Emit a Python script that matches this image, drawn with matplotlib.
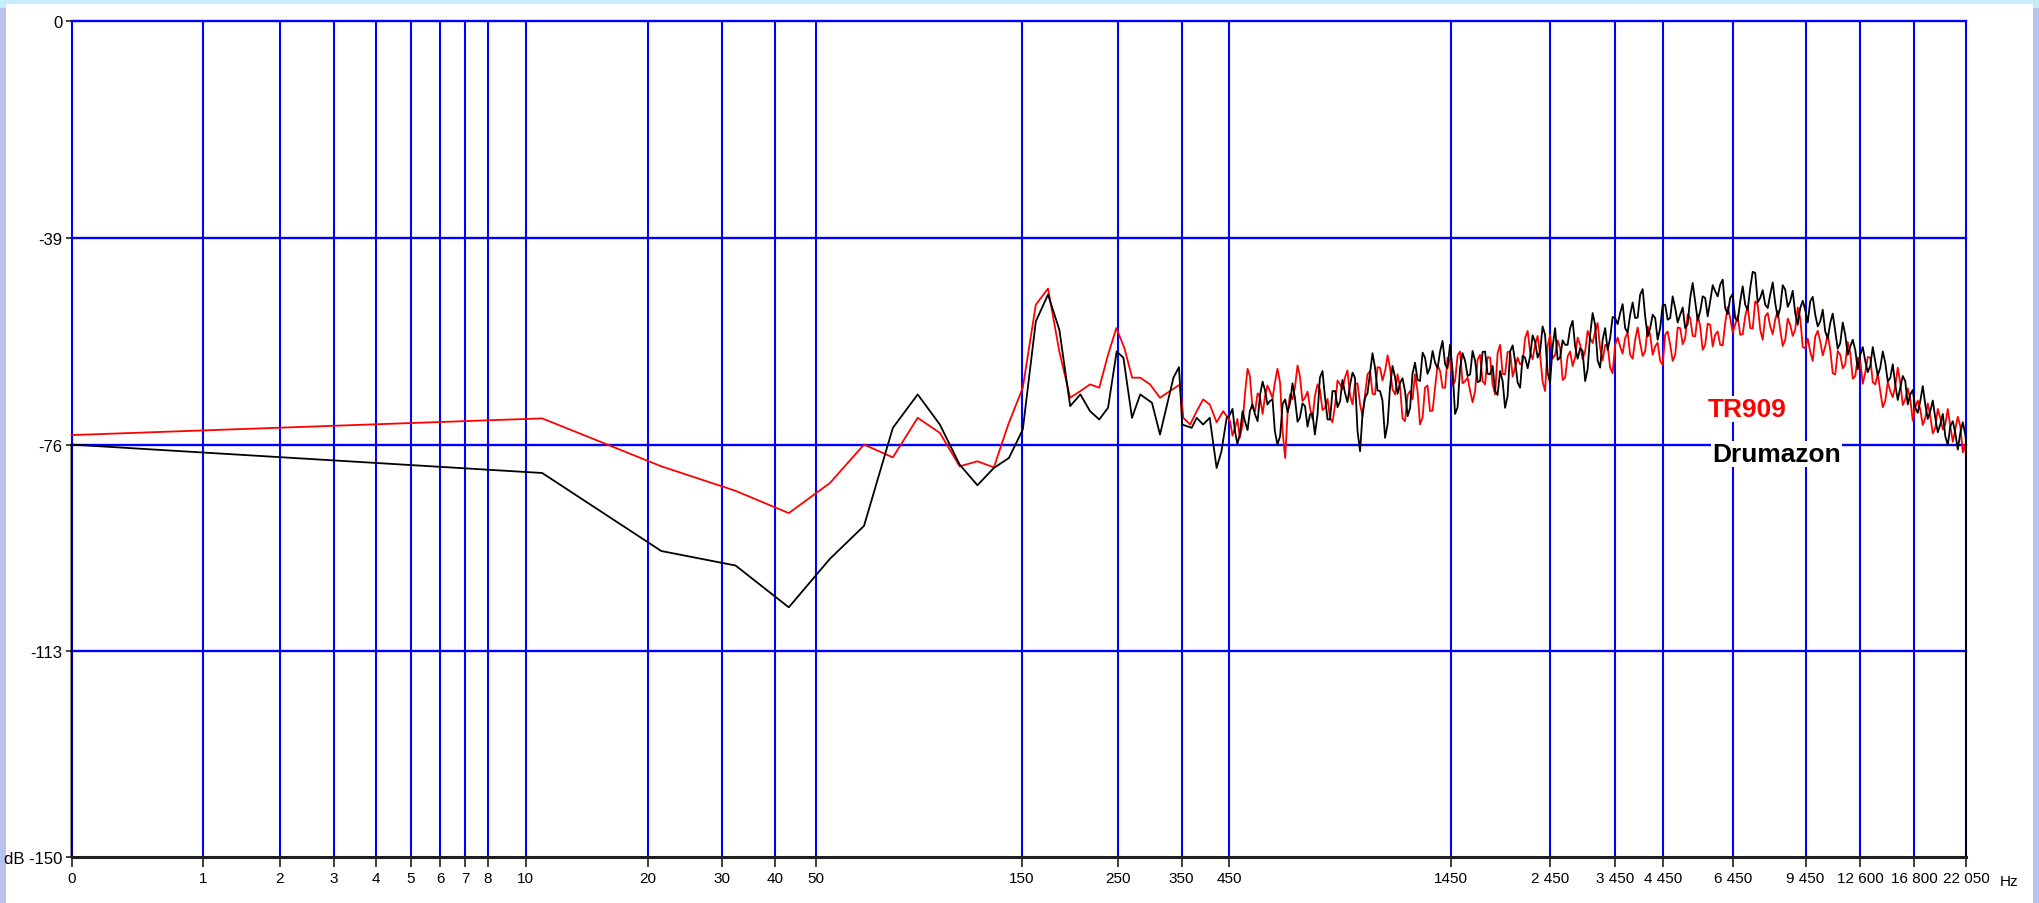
import numpy as np
import matplotlib.pyplot as plt
from matplotlib.patches import Rectangle

# spectrum values (frequency in Hz, level in dB)
red_freq_low = [0, 11, 21.5, 32.3, 43.1, 53.8, 64.6, 75.4, 86.1, 96.9,
                107.7, 118.4, 129.2, 139.5, 150.7, 161.5, 172.3, 183, 193.8, 204.6,
                215.3, 226.1, 236.9, 247.6, 258.4, 269.2, 281, 296, 312, 329,
                347, 353, 366, 379, 392, 406, 421, 436]
red_db_low = [-74.3, -71.3, -79.9, -84.3, -88.3, -82.9, -76.0, -78.3, -71.2, -73.9,
              -79.9, -79.0, -80.1, -72.4, -65.8, -50.9, -48.0, -59.3, -67.6, -66.4,
              -65.2, -65.8, -59.9, -55.1, -58.7, -64.0, -64.0, -65.2, -67.6, -66.4,
              -65.2, -71.2, -72.4, -70.0, -67.9, -68.8, -72.0, -70.0]

black_freq_low = [0, 0, 11, 21.5, 32.3, 43.1, 53.8, 64.6, 75.4, 86.1,
                  96.9, 107.7, 118.4, 129.2, 140, 150.7, 161.5, 172.3, 183, 193.8,
                  204.6, 215.3, 226.1, 236.9, 248, 257, 269, 281, 299, 312,
                  335, 345, 351, 369, 379, 392, 406, 421, 432, 444]
black_db_low = [-150, -76.0, -81.1, -95.1, -97.7, -105.2, -96.5, -90.6, -73.0, -67.0,
                -72.4, -79.6, -83.3, -80.2, -78.4, -73.3, -53.9, -49.1, -55.4, -69.1,
                -67.0, -70.0, -71.5, -69.4, -59.3, -60.4, -71.2, -67.0, -68.5, -74.2,
                -64.0, -62.1, -72.4, -73.0, -71.2, -72.4, -71.2, -80.2, -77.2, -71.2]

freq_high = [452, 464, 476, 489, 502, 516, 530, 544, 558, 573,
             589, 605, 621, 637, 654, 672, 690, 708, 727, 747,
             767, 788, 809, 830, 853, 875, 899, 923, 948, 973,
             999, 1026, 1053, 1082, 1111, 1140, 1171, 1202, 1234, 1267,
             1301, 1336, 1372, 1409, 1446, 1485, 1525, 1566, 1608, 1651,
             1695, 1740, 1787, 1835, 1884, 1934, 1986, 2039, 2094, 2150,
             2207, 2266, 2327, 2389, 2453, 2519, 2587, 2656, 2727, 2800,
             2875, 2952, 3031, 3112, 3195, 3281, 3368, 3459, 3551, 3646,
             3744, 3844, 3947, 4053, 4161, 4273, 4387, 4504, 4625, 4749,
             4876, 5006, 5140, 5278, 5419, 5564, 5713, 5866, 6023, 6184,
             6349, 6519, 6694, 6873, 7057, 7246, 7440, 7639, 7843, 8053,
             8269, 8490, 8717, 8950, 9190, 9436, 9688, 9948, 10214, 10487,
             10768, 11056, 11352, 11656, 11968, 12288, 12617, 12954, 13301, 13657,
             14022, 14397, 14783, 15178, 15584, 16001, 16430, 16869, 17321, 17784,
             18260, 18749, 19251, 19766, 20295, 20838, 21396, 21968]

black_db_high = [-70.6, -73.6, -74.2, -71.8, -70.0, -70.6, -67.0, -66.3, -68.2, -73.6,
                 -74.5, -67.9, -68.5, -67.6, -71.2, -69.1, -70.6, -74.2, -64.0, -67.6,
                 -71.5, -66.4, -68.2, -66.7, -65.2, -64.0, -77.2, -67.6, -63.1, -62.2,
                 -66.4, -74.8, -65.8, -64.0, -64.9, -66.4, -69.4, -61.3, -64.6, -60.4,
                 -62.2, -61.3, -59.3, -61.6, -58.1, -70.5, -62.2, -61.0, -63.4, -61.0,
                 -64.6, -59.3, -63.4, -66.4, -62.8, -69.4, -59.3, -61.0, -65.8, -60.4,
                 -60.2, -57.5, -59.3, -56.3, -64.9, -55.1, -60.4, -58.1, -55.1, -58.4,
                 -58.7, -64.6, -56.3, -54.5, -62.2, -55.1, -56.9, -53.3, -52.4, -55.1,
                 -52.7, -53.3, -49.1, -53.0, -55.1, -53.3, -55.1, -50.9, -53.3, -51.5,
                 -52.7, -55.1, -49.7, -50.3, -52.1, -49.7, -50.3, -48.5, -47.3, -51.5,
                 -49.7, -53.3, -50.3, -50.9, -47.9, -45.2, -49.7, -50.9, -49.1, -50.6,
                 -51.5, -48.2, -50.3, -52.4, -51.5, -51.8, -50.3, -52.7, -53.9, -55.7,
                 -54.2, -55.7, -57.8, -56.3, -58.4, -59.0, -59.9, -61.0, -61.9, -61.0,
                 -62.2, -61.3, -64.0, -65.2, -65.8, -64.6, -67.0, -69.4, -68.2, -68.8,
                 -70.0, -71.2, -72.4, -74.5, -72.7, -73.9, -73.9, -74.2]

red_db_high = [-71.8, -73.0, -74.8, -67.0, -63.7, -70.0, -67.6, -67.3, -66.4, -64.9,
               -64.9, -78.4, -67.0, -65.8, -63.7, -67.6, -69.4, -67.3, -66.1, -69.4,
               -71.2, -68.8, -65.2, -64.0, -67.3, -65.2, -68.8, -67.0, -62.8, -67.0,
               -62.2, -62.8, -62.2, -67.0, -65.8, -71.8, -66.4, -63.4, -72.4, -65.8,
               -70.0, -65.8, -62.8, -65.8, -61.0, -64.6, -59.3, -64.6, -66.4, -66.4,
               -59.9, -65.2, -60.4, -67.0, -58.1, -63.4, -59.3, -62.2, -61.6, -56.9,
               -59.3, -58.1, -59.9, -66.4, -56.3, -59.9, -58.7, -64.0, -59.3, -60.4,
               -58.1, -59.3, -56.9, -55.7, -58.7, -58.1, -62.2, -58.1, -58.4, -56.9,
               -59.9, -57.2, -57.8, -59.3, -56.3, -58.4, -61.0, -56.3, -58.1, -59.9,
               -55.1, -56.9, -53.3, -56.6, -54.8, -58.1, -54.5, -56.3, -58.1, -54.2,
               -53.3, -54.5, -56.3, -53.0, -55.1, -50.3, -55.4, -53.0, -54.8, -53.6,
               -55.4, -57.2, -54.5, -55.4, -53.3, -58.7, -59.3, -56.6, -57.5, -58.4,
               -59.0, -63.4, -59.9, -61.6, -59.6, -63.7, -61.0, -63.1, -60.4, -65.2,
               -66.4, -68.2, -66.4, -65.5, -64.9, -67.9, -67.9, -69.4, -69.7, -71.2,
               -70.9, -73.0, -71.2, -72.4, -72.7, -73.3, -72.7, -76.0]

# in-between bins, where the trace jitters faster than can be read exactly
freq_mid = [458, 470, 483, 496, 509, 523, 537, 551, 566, 581,
            597, 613, 629, 646, 663, 681, 699, 718, 737, 757,
            777, 798, 819, 841, 864, 887, 911, 935, 960, 986,
            1012, 1040, 1067, 1096, 1125, 1156, 1186, 1218, 1251, 1284,
            1319, 1354, 1390, 1427, 1466, 1505, 1545, 1587, 1629, 1673,
            1717, 1763, 1811, 1859, 1909, 1960, 2013, 2067, 2122, 2179,
            2237, 2297, 2358, 2421, 2486, 2553, 2621, 2691, 2763, 2837,
            2913, 2991, 3071, 3153, 3238, 3324, 3413, 3505, 3598, 3695,
            3794, 3895, 4000, 4107, 4217, 4329, 4445, 4564, 4686, 4812,
            4941, 5073, 5209, 5348, 5491, 5638, 5789, 5944, 6103, 6266,
            6434, 6606, 6783, 6964, 7151, 7342, 7539, 7741, 7948, 8160,
            8379, 8603, 8833, 9069, 9312, 9561, 9817, 10080, 10350, 10627,
            10911, 11203, 11503, 11811, 12127, 12451, 12785, 13127, 13478, 13839,
            14209, 14589, 14979, 15380, 15792, 16214, 16648, 17094, 17551, 18021,
            18503, 18998, 19507, 20029, 20565, 21115, 21680]

black_db_mid = [-69.6, -75.9, -70.0, -73.4, -68.8, -71.8, -64.7, -68.8, -67.9, -76.0,
                -68.7, -70.2, -65.0, -71.9, -68.6, -72.8, -70.4, -70.6, -62.8, -71.5,
                -66.4, -69.3, -64.4, -68.4, -63.1, -73.6, -70.4, -66.8, -59.6, -66.3,
                -68.1, -72.3, -61.9, -66.9, -64.1, -70.9, -63.3, -64.4, -59.5, -63.3,
                -59.2, -62.3, -57.4, -62.3, -62.8, -69.3, -59.6, -63.7, -59.2, -64.8,
                -59.4, -63.3, -61.9, -67.1, -64.6, -67.3, -58.2, -64.9, -60.1, -62.3,
                -56.4, -60.4, -54.8, -63.1, -58.5, -60.8, -57.3, -58.1, -53.8, -60.6,
                -59.2, -62.5, -52.4, -60.9, -57.2, -59.0, -53.1, -54.4, -50.8, -55.9,
                -50.5, -53.2, -48.1, -56.6, -52.7, -57.2, -51.0, -53.6, -49.4, -54.1,
                -51.4, -54.4, -47.0, -53.7, -49.4, -53.0, -47.4, -49.4, -46.4, -52.6,
                -49.0, -53.8, -47.6, -51.9, -45.0, -50.5, -48.3, -51.5, -46.9, -53.1,
                -47.4, -51.3, -48.4, -54.5, -50.2, -54.1, -49.5, -54.8, -51.8, -57.0,
                -52.5, -58.8, -54.1, -59.9, -57.2, -62.5, -58.5, -63.0, -58.5, -63.6,
                -59.3, -64.7, -61.6, -68.0, -63.7, -68.8, -66.2, -70.3, -65.5, -71.4,
                -68.1, -73.8, -70.5, -76.1, -71.8, -76.9, -72.0]

red_db_mid = [-74.4, -71.4, -72.4, -62.4, -69.4, -66.8, -70.5, -65.4, -67.7, -62.4,
              -73.7, -70.2, -67.9, -61.8, -68.2, -66.5, -71.4, -65.2, -69.8, -67.8,
              -72.0, -64.5, -66.1, -62.7, -68.8, -65.0, -70.9, -63.4, -66.9, -62.1,
              -64.5, -60.0, -66.1, -63.4, -71.3, -67.1, -67.9, -66.4, -71.1, -65.4,
              -69.9, -61.8, -65.8, -60.4, -65.3, -60.0, -65.0, -64.0, -68.4, -60.7,
              -64.6, -60.3, -65.2, -59.6, -63.3, -59.4, -63.8, -60.4, -61.3, -55.6,
              -60.7, -56.5, -64.7, -58.4, -60.6, -57.3, -64.4, -60.2, -61.9, -56.8,
              -60.7, -55.6, -57.8, -54.2, -60.9, -58.2, -63.2, -56.8, -59.7, -55.9,
              -60.6, -55.0, -60.1, -54.8, -59.9, -57.7, -61.7, -55.7, -61.0, -55.0,
              -58.0, -52.6, -56.5, -52.7, -59.0, -54.3, -58.4, -55.7, -58.2, -51.3,
              -55.9, -52.9, -56.2, -51.1, -55.2, -50.9, -57.2, -52.4, -56.2, -52.0,
              -58.3, -53.4, -56.5, -51.4, -58.5, -57.0, -61.0, -55.6, -60.0, -56.2,
              -63.2, -59.2, -62.3, -57.6, -64.2, -60.4, -65.1, -60.3, -64.8, -63.3,
              -69.3, -64.8, -67.5, -62.2, -68.9, -65.9, -71.7, -68.1, -72.5, -68.6,
              -74.0, -69.6, -73.3, -69.6, -75.5, -71.0, -77.4]

red_end = [-78.4]
black_end = [-75.2, -150]

tick_freqs = [0, 1, 2, 3, 4, 5, 6, 7, 8, 10, 20, 30, 40, 50, 150, 250, 350, 450,
              1450, 2450, 3450, 4450, 6450, 9450, 12600, 16800, 22050]
tick_labels = ['0', '1', '2', '3', '4', '5', '6', '7', '8', '10', '20', '30', '40', '50',
               '150', '250', '350', '450', '1450', '2 450', '3 450', '4 450', '6 450',
               '9 450', '12 600', '16 800', '22 050']
db_ticks = [0, -39, -76, -113, -150]
db_labels = ['0', '-39', '-76', '-113', 'dB -150']

plt.rcParams['font.family'] = ['Liberation Sans', 'DejaVu Sans']


def fwd(f):
    return np.log10(1 + np.clip(f, 0, None))


def inv(u):
    return 10 ** u - 1


# high band: merge read bins and in-between bins in frequency order
f_hi = np.array(freq_high + freq_mid)
order = np.argsort(f_hi)
f_hi = list(f_hi[order])
red_hi = list(np.array(red_db_high + red_db_mid)[order])
black_hi = list(np.array(black_db_high + black_db_mid)[order])

red_f = red_freq_low + f_hi + [22050]
red_v = red_db_low + red_hi + red_end
black_f = black_freq_low + f_hi + [22050, 22050]
black_v = black_db_low + black_hi + black_end

W, H = 2039, 904
fig = plt.figure(figsize=(W / 100, H / 100), dpi=100)
fig.patch.set_facecolor('#c6eefa')
fig.add_artist(Rectangle((0, 0), 6 / W, 0.99, transform=fig.transFigure,
                         facecolor='#b7c2ee', edgecolor='none', zorder=-10))
fig.add_artist(Rectangle((2033 / W, 0), 6 / W, 0.99, transform=fig.transFigure,
                         facecolor='#b7c2ee', edgecolor='none', zorder=-10))
fig.add_artist(Rectangle((6 / W, 0), 2027 / W, 899 / H, transform=fig.transFigure,
                         facecolor='white', edgecolor='none', zorder=-9))

ax = fig.add_axes([71.5 / W, 46 / H, 1894.5 / W, 836 / H])
ax.set_xscale('function', functions=(fwd, inv))
ax.set_xlim(0, 22050)
ax.set_ylim(-150, 0)
ax.patch.set_alpha(0)

for f in tick_freqs:
    ax.axvline(f, color='#0000ff', lw=1.5, zorder=1, clip_on=False)
for d in db_ticks[:-1]:
    ax.axhline(d, color='#0000ff', lw=1.7, zorder=1, clip_on=False)

ax.plot(red_f, red_v, color='#ff0000', lw=1.3, zorder=2, clip_on=False)
ax.plot(black_f, black_v, color='#000000', lw=1.3, zorder=3, clip_on=False)

for s in ['top', 'right', 'left']:
    ax.spines[s].set_visible(False)
ax.spines['bottom'].set_color('#202020')
ax.spines['bottom'].set_linewidth(2.2)
ax.spines['bottom'].set_zorder(4)

ax.set_xticks(tick_freqs, tick_labels)
ax.set_yticks(db_ticks, db_labels)
ax.xaxis.set_minor_locator(plt.NullLocator())
ax.tick_params(axis='x', direction='out', length=7, width=1.2, color='#202020',
               pad=3, labelsize=11)
ax.tick_params(axis='y', direction='out', length=4.5, width=1.2, color='#202020',
               pad=2, labelsize=12)

fig.text(2009 / W, 1 - 882 / H, 'Hz', ha='center', va='center', fontsize=11)

fig.text(1708 / W, 1 - 417 / H, 'TR909', ha='left', va='baseline',
         color='#ff0000', fontsize=19, fontweight='bold', zorder=5,
         bbox=dict(facecolor='white', edgecolor='none', pad=1))
fig.text(1712 / W, 1 - 462 / H, 'Drumazon', ha='left', va='baseline',
         color='#000000', fontsize=19, fontweight='bold', zorder=5,
         bbox=dict(facecolor='white', edgecolor='none', pad=1))

fig.savefig('out.png', dpi=100)
